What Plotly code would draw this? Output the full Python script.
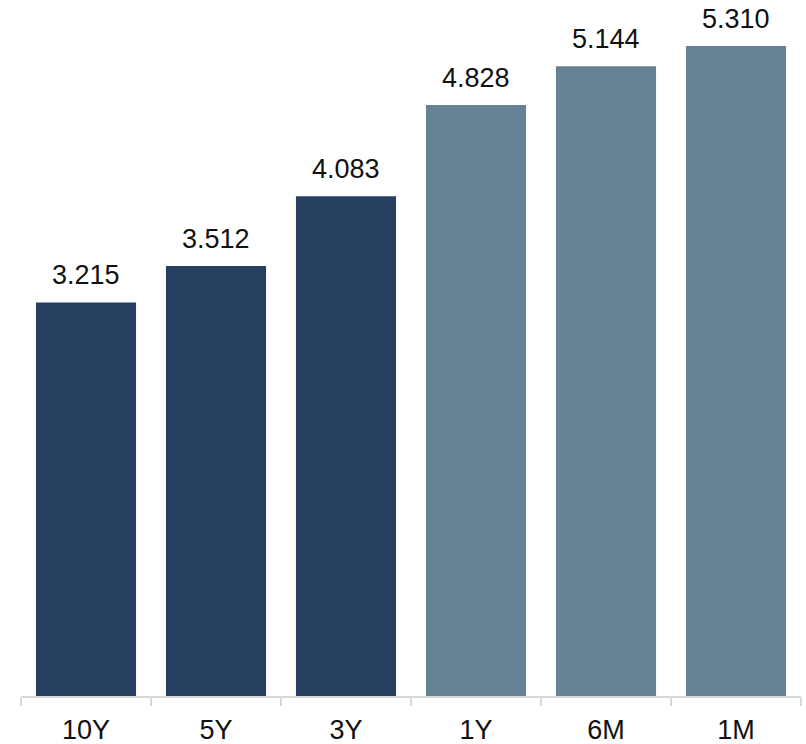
import plotly.graph_objects as go

tenors = ["10Y", "5Y", "3Y", "1Y", "6M", "1M"]
yields = [3.215, 3.512, 4.083, 4.828, 5.144, 5.310]
bar_colors = ["#263F5E", "#263F5E", "#263F5E", "#688295", "#688295", "#688295"]

FONT = "Liberation Sans, Arial, sans-serif"

fig = go.Figure(
    go.Bar(
        x=tenors,
        y=yields,
        marker=dict(color=bar_colors, line=dict(width=0)),
        hoverinfo="x+y",
    )
)

# value labels above each bar
for t, v in zip(tenors, yields):
    fig.add_annotation(
        x=t,
        y=v,
        text=f"{v:.3f}",
        showarrow=False,
        yanchor="bottom",
        yshift=10,
        font=dict(family=FONT, size=27, color="#111111"),
    )

fig.update_layout(
    width=806,
    height=744,
    margin=dict(l=21, r=5, t=0, b=48),
    paper_bgcolor="white",
    plot_bgcolor="white",
    bargap=0.23,
    showlegend=False,
    font=dict(family=FONT, size=27, color="#111111"),
)
fig.update_xaxes(
    showline=True,
    linecolor="#D9D9D9",
    linewidth=2,
    ticks="outside",
    tickson="boundaries",
    ticklen=8,
    tickcolor="#D9D9D9",
    tickwidth=2,
    ticklabelstandoff=9,
    showgrid=False,
    tickfont=dict(family=FONT, size=27, color="#111111"),
)
fig.update_yaxes(
    range=[0, 5.686],
    visible=False,
    showgrid=False,
    zeroline=False,
)

fig.write_html("out.html")
